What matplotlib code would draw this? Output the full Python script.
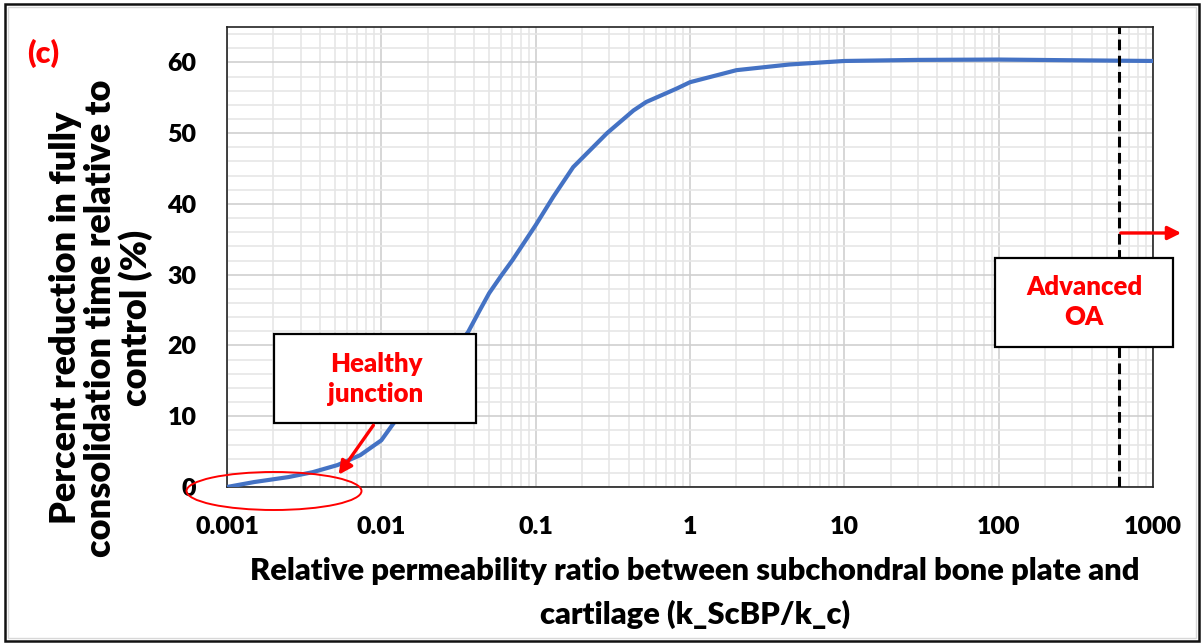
import matplotlib
matplotlib.use("Agg")
import matplotlib.pyplot as plt
from matplotlib.patches import Rectangle, Ellipse, FancyArrowPatch
from matplotlib.ticker import FixedLocator, LogLocator, MultipleLocator, NullFormatter

plt.rcParams['font.family'] = ['Lato', 'DejaVu Sans']
WEIGHT = 'heavy'

# data
ratio = [0.001, 0.0015, 0.0025, 0.0036, 0.0052, 0.0073, 0.01, 0.012, 0.02, 0.0365,
         0.043, 0.05, 0.06, 0.071, 0.1, 0.13, 0.175, 0.29, 0.43, 0.52, 0.82, 1, 2, 4.4, 10, 30,
         100, 300, 1000]
reduction = [0, 0.7, 1.4, 2.1, 3.1, 4.5, 6.6, 9.0, 14.5, 21.9,
             24.8, 27.4, 29.9, 32.1, 37.0, 41.0, 45.2, 50.0, 53.2, 54.4, 56.3, 57.2, 58.9, 59.7, 60.2, 60.35,
             60.4, 60.3, 60.2]
advanced_oa_x = 600
x_ticks = [0.001, 0.01, 0.1, 1, 10, 100, 1000]
x_tick_labels = ['0.001', '0.01', '0.1', '1', '10', '100', '1000']
y_ticks = [0, 10, 20, 30, 40, 50, 60]

W, H = 1202, 644
fig = plt.figure(figsize=(W / 100, H / 100), dpi=100)

def fx(px):
    return px / W

def fy(py):
    return 1 - py / H

ax = fig.add_axes([fx(227), fy(487), fx(1153) - fx(227), fy(27) - fy(487)])
ax.set_xscale('log')
ax.set_xlim(0.001, 1000)
ax.set_ylim(0, 65)

ax.xaxis.set_major_locator(FixedLocator(x_ticks))
ax.set_xticklabels(x_tick_labels)
ax.xaxis.set_minor_locator(LogLocator(base=10, subs=range(2, 10), numticks=100))
ax.xaxis.set_minor_formatter(NullFormatter())
ax.set_yticks(y_ticks)
ax.yaxis.set_minor_locator(MultipleLocator(2))

ax.grid(which='major', color='#cfcfcf', lw=1.2)
ax.grid(which='minor', color='#e6e6e6', lw=1.2)
ax.set_axisbelow(True)
ax.tick_params(which='both', length=0)
ax.tick_params(axis='x', pad=21, labelsize=18)
ax.tick_params(axis='y', pad=22, labelsize=18)
for lbl in ax.get_xticklabels() + ax.get_yticklabels():
    lbl.set_fontweight(WEIGHT)
for sp in ax.spines.values():
    sp.set_color('#222222')
    sp.set_linewidth(1.2)

ax.plot(ratio, reduction, color='#4472C4', lw=3.0, solid_capstyle='round',
        solid_joinstyle='round', zorder=3)
ax.axvline(advanced_oa_x, color='black', lw=2.2, ls=(0, (3.5, 1.8)), zorder=4)

# axis titles
fig.text(fx(695), fy(571), 'Relative permeability ratio between subchondral bone plate and',
         ha='center', va='center', fontsize=22.2, fontweight=WEIGHT)
fig.text(fx(695), fy(614), 'cartilage (k_ScBP/k_c)',
         ha='center', va='center', fontsize=22.2, fontweight=WEIGHT)
fig.text(fx(101), fy(318), 'Percent reduction in fully\nconsolidation time relative to\ncontrol (%)',
         ha='center', va='center', rotation=90, fontsize=26, fontweight=WEIGHT,
         multialignment='center', linespacing=1.05)

fig.text(fx(43), fy(53), '(c)', color='red', ha='center', va='center',
         fontsize=22, fontweight=WEIGHT)

# Healthy junction box
fig.patches.append(Rectangle((fx(274), fy(423)), fx(476) - fx(274), fy(334) - fy(423),
                             transform=fig.transFigure, facecolor='white',
                             edgecolor='black', lw=1.6, zorder=5))
fig.text(fx(376), fy(379), 'Healthy\njunction', color='red', ha='center', va='center',
         fontsize=18.5, fontweight=WEIGHT, linespacing=1.3, zorder=6)
fig.patches.append(FancyArrowPatch((fx(375), fy(423)), (fx(337), fy(477)),
                                   transform=fig.transFigure, arrowstyle='-|>',
                                   mutation_scale=20, color='red', lw=2.4, zorder=6))
fig.patches.append(Ellipse((fx(274), fy(491)), fx(175), 38 / H,
                           transform=fig.transFigure, facecolor='none',
                           edgecolor='red', lw=1.4, zorder=6))

# Advanced OA box
fig.patches.append(Rectangle((fx(995), fy(347)), fx(1173) - fx(995), fy(258) - fy(347),
                             transform=fig.transFigure, facecolor='white',
                             edgecolor='black', lw=1.6, zorder=5))
fig.text(fx(1084), fy(302), 'Advanced\nOA', color='red', ha='center', va='center',
         fontsize=18.5, fontweight=WEIGHT, linespacing=1.3, zorder=6)
fig.patches.append(FancyArrowPatch((fx(1118), fy(233)), (fx(1184), fy(233)),
                                   transform=fig.transFigure, arrowstyle='-|>',
                                   mutation_scale=20, color='red', lw=2.4, zorder=6))

# outer frame
fig.patches.append(Rectangle((fx(5), fy(641)), fx(1199) - fx(5), fy(4) - fy(641),
                             transform=fig.transFigure, facecolor='none',
                             edgecolor='#111111', lw=1.8, zorder=1))
fig.patches.append(Rectangle((fx(8), fy(638)), fx(1196) - fx(8), fy(7) - fy(638),
                             transform=fig.transFigure, facecolor='none',
                             edgecolor='#d8d8d8', lw=1.0, zorder=1))

fig.savefig('out.png', dpi=100)
